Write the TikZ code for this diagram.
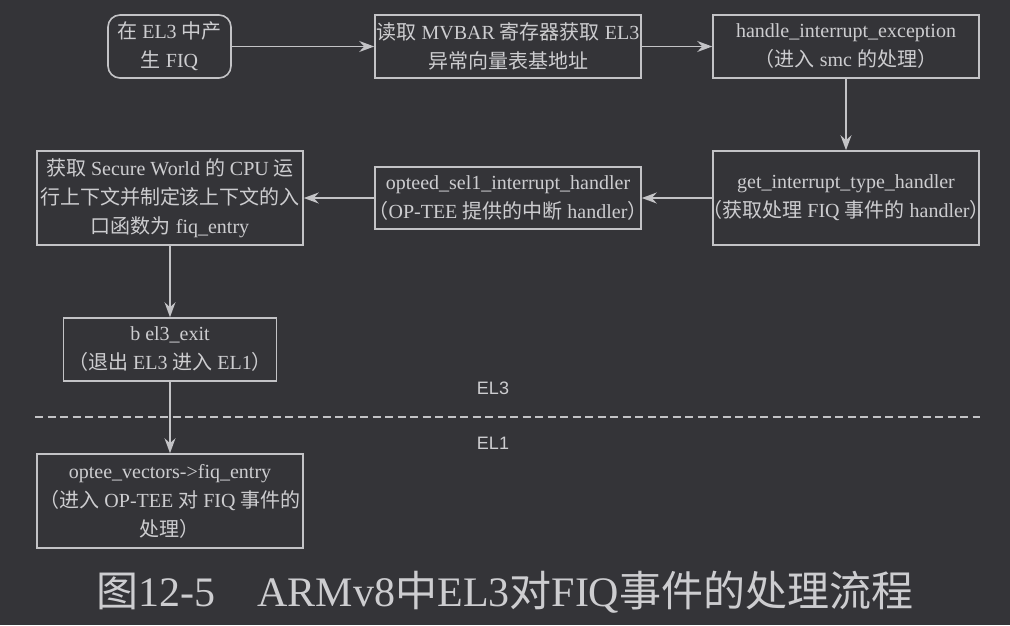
\documentclass[tikz,border=0pt]{standalone}
\usepackage{fontspec}
\setmainfont{Liberation Serif}
\newfontfamily\cjk{Noto Sans CJK SC}
\newfontfamily\elfont{Liberation Sans}
\usetikzlibrary{arrows.meta}
\definecolor{bgc}{RGB}{52,52,56}
\definecolor{linec}{RGB}{195,195,198}
\definecolor{txtc}{RGB}{205,205,208}
\newcommand{\wideline}[1]{\makebox[240pt][c]{#1}}
\tikzset{
  box/.style={draw=linec, line width=1.6pt, text=txtc, align=center, inner sep=0pt,
    font=\fontsize{20}{29}\selectfont},
  arr/.style={draw=linec, line width=1.6pt,
    -{Stealth[length=15pt,width=11pt,inset=5pt,fill=linec]}},
  ellab/.style={text=txtc, font=\elfont\fontsize{18}{20}\selectfont, inner sep=0pt},
}
\begin{document}
\begin{tikzpicture}[x=1pt,y=-1pt]
\fill[bgc] (0,0) rectangle (1010,625);
\useasboundingbox (0,0) rectangle (1010,625);

\node[box, rounded corners=12pt, minimum width=123pt, minimum height=63pt] (A) at (169.5,46.5)
  {{\cjk 在} EL3 {\cjk 中产}\\{\cjk 生} FIQ};
\node[box, minimum width=266pt, minimum height=63pt] (B) at (508,46.5)
  {\wideline{{\cjk 读取} MVBAR {\cjk 寄存器获取} EL3}\\{\cjk 异常向量表基地址}};
\node[box, minimum width=266pt, minimum height=63pt] (C) at (846,46.5)
  {handle\_interrupt\_exception\\{\cjk （进入} smc {\cjk 的处理）}};
\node[box, minimum width=266pt, minimum height=94pt] (D) at (846,198)
  {get\_interrupt\_type\_handler\\\wideline{{\cjk （获取处理} FIQ {\cjk 事件的} handler{\cjk ）}}};
\node[box, minimum width=266pt, minimum height=62pt] (E) at (508,198)
  {opteed\_sel1\_interrupt\_handler\\\wideline{{\cjk （}OP-TEE {\cjk 提供的中断} handler{\cjk ）}}};
\node[box, minimum width=266pt, minimum height=94pt] (F) at (170,198)
  {{\cjk 获取} Secure World {\cjk 的} CPU {\cjk 运}\\{\cjk 行上下文并制定该上下文的入}\\{\cjk 口函数为} fiq\_entry};
\node[box, minimum width=213pt, minimum height=63pt] (G) at (170,349.5)
  {b el3\_exit\\{\cjk （退出} EL3 {\cjk 进入} EL1{\cjk ）}};
\node[box, minimum width=266pt, minimum height=94pt] (H) at (170,501)
  {optee\_vectors->fiq\_entry\\{\cjk （进入} OP-TEE {\cjk 对} FIQ {\cjk 事件的}\\{\cjk 处理）}};

\coordinate (DL) at (35,417);
\coordinate (DR) at (980,417);
\draw[linec, line width=1.5pt, dash pattern=on 8pt off 4.5pt] (DL) -- (DR);
\node[ellab] (EL3) at (493,388) {EL3};
\node[ellab] (EL1) at (493,443) {EL1};

\draw[arr] (A) -- (B);
\draw[arr] (B) -- (C);
\draw[arr] (C) -- (D);
\draw[arr] (D) -- (E);
\draw[arr] (E) -- (F);
\draw[arr] (F) -- (G);
\draw[arr] (G) -- (H);

\node[text=txtc, inner sep=0pt, font=\fontsize{42}{48}\selectfont] (cap) at (505,592)
  {{\cjk 图}12-5{\cjk 　}ARMv8{\cjk 中}EL3{\cjk 对}FIQ{\cjk 事件的处理流程}};
\end{tikzpicture}
\end{document}
